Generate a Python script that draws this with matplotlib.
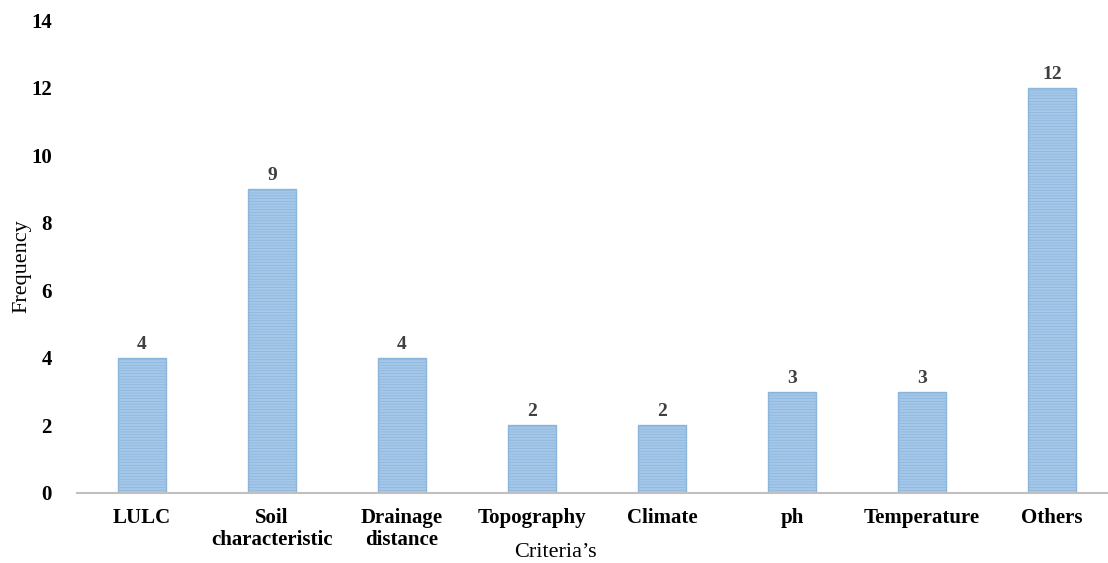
import matplotlib
matplotlib.use("Agg")
import matplotlib.pyplot as plt

categories = ["LULC", "Soil\ncharacteristic", "Drainage\ndistance", "Topography",
              "Climate", "ph", "Temperature", "Others"]
frequency = [4, 9, 4, 2, 2, 3, 3, 12]

plt.rcParams["font.family"] = ["Liberation Serif", "DejaVu Serif"]
plt.rcParams["hatch.color"] = "#8fb7de"
plt.rcParams["hatch.linewidth"] = 0.5

fig = plt.figure(figsize=(11.08, 5.63), dpi=100)
ax = fig.add_axes([77 / 1108, 1 - 493 / 563, 1 - 77 / 1108, (493 - 20) / 563])

x = range(len(categories))
bars = ax.bar(x, frequency, width=0.37, color="#a5c8e9", edgecolor="#8ab5dc",
              linewidth=1, hatch="------")

for b, v in zip(bars, frequency):
    ax.text(b.get_x() + b.get_width() / 2, v + 0.15, str(v), ha="center", va="bottom",
            fontsize=14, fontweight="bold", color="#404040")

ax.set_xlim(-0.5, 7.43)
ax.set_ylim(0, 14)
ax.set_yticks(range(0, 15, 2))
ax.set_xticks(list(x))
ax.set_xticklabels(categories, fontsize=15, fontweight="bold", linespacing=1.1)
for lab in ax.get_yticklabels():
    lab.set_fontweight("bold")
    lab.set_fontsize(15)

ax.tick_params(axis="both", length=0)
ax.tick_params(axis="y", pad=18)
ax.tick_params(axis="x", pad=11)
for s in ["top", "right", "left"]:
    ax.spines[s].set_visible(False)
ax.spines["bottom"].set_color("#c0c0c0")
ax.spines["bottom"].set_linewidth(1.5)

ax.set_ylabel("Frequency", fontsize=16, va="center")
ax.yaxis.set_label_coords(-0.053, 0.48)
ax.set_xlabel("Criteria\u2019s", fontsize=16, va="center")
ax.xaxis.set_label_coords(0.464, -0.125)

fig.savefig("out.png", dpi=100)
